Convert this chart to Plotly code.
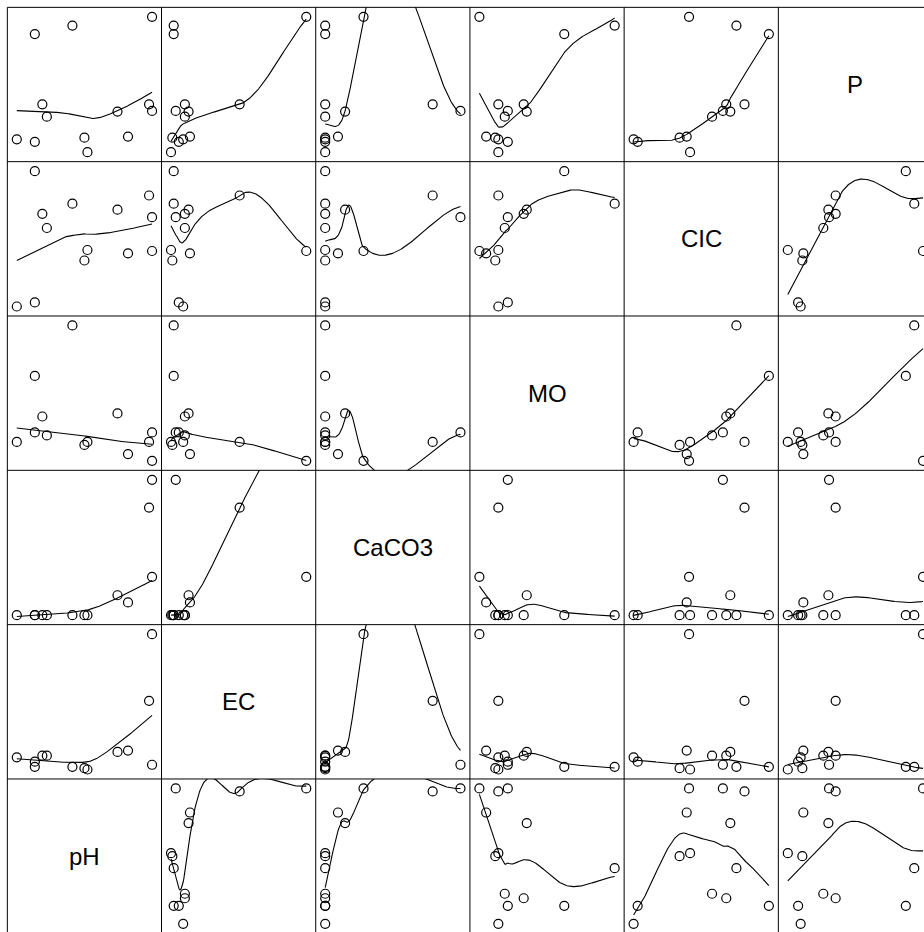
import numpy as np
import plotly.graph_objects as go

# ---------------- data (13 soil samples) ----------------
variables = ["pH", "EC", "CaCO3", "MO", "CIC", "P"]
pH    = [7.40, 7.52, 7.52, 7.57, 7.60, 7.77, 7.85, 7.87, 8.07, 8.14, 8.28, 8.30, 8.30]
EC    = [0.76, 0.48, 0.63, 0.81, 0.81, 0.48, 0.44, 0.40, 0.92, 0.96, 2.43, 4.40, 0.54]
CaCO3 = [0.0, 0.0, 0.0, 0.0, 0.0, 0.0, 0.0, 0.0, 5.3, 3.4, 28.6, 10.2, 36.0]
MO    = [1.36, 3.31, 1.64, 2.11, 1.55, 4.80, 1.27, 1.36, 2.20, 1.00, 1.36, 0.80, 1.64]
CIC   = [8.0, 28.0, 8.6, 21.7, 19.6, 23.2, 14.8, 16.35, 22.3, 15.85, 24.4, 16.2, 21.2]
P     = [8.8, 39.9, 8.05, 19.15, 15.5, 42.4, 9.3, 5.0, 17.0, 9.6, 19.15, 45.0, 17.2]

data = {"pH": pH, "EC": EC, "CaCO3": CaCO3, "MO": MO, "CIC": CIC, "P": P}

# smoother settings (robust local-linear loess)
SPAN, DEGREE, ITERATIONS = 0.9, 1, 4

# ---------------- R-like loess (kd-tree vertices + cubic Hermite, robust) ----------------
def local_fit(x, y, rw, z, q, degree, span):
    d = np.abs(x - z)
    order = np.argsort(d, kind="stable")
    idx = order[:q]
    rho = d[order[q - 1]] * max(1.0, span)
    if rho <= 0:
        rho = 1e-12
    r = np.clip(d[idx] / rho, 0, 1)
    w = (1 - r ** 3) ** 3 * rw[idx]
    X = np.column_stack([(x[idx] - z) ** p for p in range(degree + 1)])
    sw = np.sqrt(w)
    A = X * sw[:, None]
    b = y[idx] * sw
    norms = np.linalg.norm(A, axis=0)
    norms[norms == 0] = 1.0
    coef = np.linalg.lstsq(A / norms, b, rcond=100 * np.finfo(float).eps)[0] / norms
    return coef[0], (coef[1] if degree >= 1 else 0.0)


def kd_vertices(xs, fc):
    n = len(xs)
    rng = xs[-1] - xs[0]
    mu = 0.005 * max(rng, 1e-10 * max(abs(xs[0]), abs(xs[-1])) + 1e-30)
    lo, hi = xs[0] - mu, xs[-1] + mu
    X = [None] + list(xs)
    verts = set()

    def build(l, u, vlo, vhi):
        if u - l + 1 <= fc:
            return
        m = (l + u) // 2
        off = 0
        while True:
            if m + off >= u or m + off < l:
                break
            if X[m + off] == X[m + off + 1]:
                off = -off
                if off >= 0:
                    off += 1
            else:
                m = m + off
                break
        v = X[m]
        if v == vlo or v == vhi:
            return
        verts.add(v)
        build(l, m, vlo, v)
        build(m + 1, u, v, vhi)

    build(1, n, lo, hi)
    return np.array(sorted([lo, hi] + list(verts)))


def hermite(verts, vals, slopes, pts):
    out = []
    for z in pts:
        i = np.searchsorted(verts, z, side="right") - 1
        i = min(max(i, 0), len(verts) - 2)
        h = verts[i + 1] - verts[i]
        u = (z - verts[i]) / h
        phi0 = (1 - u) ** 2 * (1 + 2 * u)
        phi1 = u ** 2 * (3 - 2 * u)
        psi0 = u * (1 - u) ** 2
        psi1 = -u ** 2 * (1 - u)
        out.append(phi0 * vals[i] + phi1 * vals[i + 1] + (psi0 * slopes[i] + psi1 * slopes[i + 1]) * h)
    return np.array(out)


def robust_weights(res):
    a = np.abs(res)
    n = len(a)
    s = np.sort(a)
    nh = n // 2 + 1
    if (n - nh) + 1 < nh:
        cmad = 3 * (s[nh - 1] + s[nh - 2])
    else:
        cmad = 6 * s[nh - 1]
    if cmad < 1e-300:
        return np.ones(n)
    rw = np.where(a > 0.999 * cmad, 0.0,
                  np.where(a > 0.001 * cmad, (1 - (a / cmad) ** 2) ** 2, 1.0))
    return rw


def loess_curve(xv, yv, span=SPAN, degree=DEGREE, iterations=ITERATIONS, n_out=200):
    x = np.asarray(xv, float)
    y = np.asarray(yv, float)
    n = len(x)
    q = min(int(np.floor(n * span + 1e-5)), n)
    fc = int(np.floor(n * span * 0.2))
    verts = kd_vertices(np.sort(x), fc)
    rw = np.ones(n)
    for it in range(iterations):
        fits = [local_fit(x, y, rw, v, q, degree, span) for v in verts]
        vals = np.array([f[0] for f in fits])
        slopes = np.array([f[1] for f in fits])
        if it < iterations - 1:
            fitted = hermite(verts, vals, slopes, x)
            rw = robust_weights(y - fitted)
    grid = np.linspace(x.min(), x.max(), n_out)
    return grid, hermite(verts, vals, slopes, grid)


# ---------------- layout geometry ----------------
W, H = 924, 932
X0, SX = 7.33, 154.2
Y0, SY = 7.33, 154.33
PADF = 0.07
NV = len(variables)

fig = go.Figure()
layout = {}
annotations = []
shapes = []


def full_range(v):
    arr = np.asarray(data[v], float)
    lo, hi = arr.min(), arr.max()
    pad = PADF * (hi - lo)
    return lo - pad, hi + pad


for r in range(NV):
    for c in range(NV):
        k = r * NV + c + 1
        xname = "x" if k == 1 else f"x{k}"
        yname = "y" if k == 1 else f"y{k}"
        xl = "xaxis" if k == 1 else f"xaxis{k}"
        yl = "yaxis" if k == 1 else f"yaxis{k}"
        left_px = X0 + c * SX
        right_px = min(X0 + (c + 1) * SX, W)
        top_px = Y0 + r * SY
        bot_px = min(Y0 + (r + 1) * SY, H)
        xvar = variables[c]
        yvar = variables[NV - 1 - r]

        a0, a1 = full_range(xvar)
        fx = (right_px - left_px) / SX
        xr = [a0, a0 + fx * (a1 - a0)]
        b0, b1 = full_range(yvar)
        fy = (bot_px - top_px) / SY
        yr = [b1 - fy * (b1 - b0), b1]

        common = dict(showgrid=False, zeroline=False, showticklabels=False,
                      showline=False, ticks="", fixedrange=True)
        layout[xl] = dict(domain=[left_px / W, right_px / W], range=xr, anchor=yname, **common)
        layout[yl] = dict(domain=[1 - bot_px / H, 1 - top_px / H], range=yr, anchor=xname, **common)

        if xvar == yvar:
            cx = (X0 + (c + 0.5) * SX) / W
            cy = 1 - (Y0 + (r + 0.5) * SY) / H
            annotations.append(dict(text=xvar, x=cx, y=cy, xref="paper", yref="paper",
                                    xanchor="center", yanchor="middle", showarrow=False,
                                    font=dict(family="Liberation Sans, Arial, sans-serif",
                                              size=24, color="black")))
            continue

        xs_ = data[xvar]
        ys_ = data[yvar]
        fig.add_trace(go.Scatter(x=xs_, y=ys_, mode="markers", xaxis=xname, yaxis=yname,
                                 marker=dict(symbol="circle-open", size=9, color="black",
                                             line=dict(width=1.2, color="black")),
                                 showlegend=False, hoverinfo="skip"))
        gx, gy = loess_curve(xs_, ys_)
        fig.add_trace(go.Scatter(x=gx, y=gy, mode="lines", xaxis=xname, yaxis=yname,
                                 line=dict(color="black", width=1.1),
                                 showlegend=False, hoverinfo="skip"))

# panel borders
for k in range(NV):
    xp = (X0 + k * SX) / W
    shapes.append(dict(type="line", xref="paper", yref="paper", x0=xp, x1=xp,
                       y0=1 - Y0 / H, y1=0, line=dict(color="black", width=1)))
    yp = 1 - (Y0 + k * SY) / H
    shapes.append(dict(type="line", xref="paper", yref="paper", x0=X0 / W, x1=1,
                       y0=yp, y1=yp, line=dict(color="black", width=1)))

fig.update_layout(width=W, height=H, margin=dict(l=0, r=0, t=0, b=0),
                  paper_bgcolor="white", plot_bgcolor="white",
                  annotations=annotations, shapes=shapes, **layout)

fig.write_html("out.html", config={"displayModeBar": False},
               post_script="document.body.style.margin='0px';")
